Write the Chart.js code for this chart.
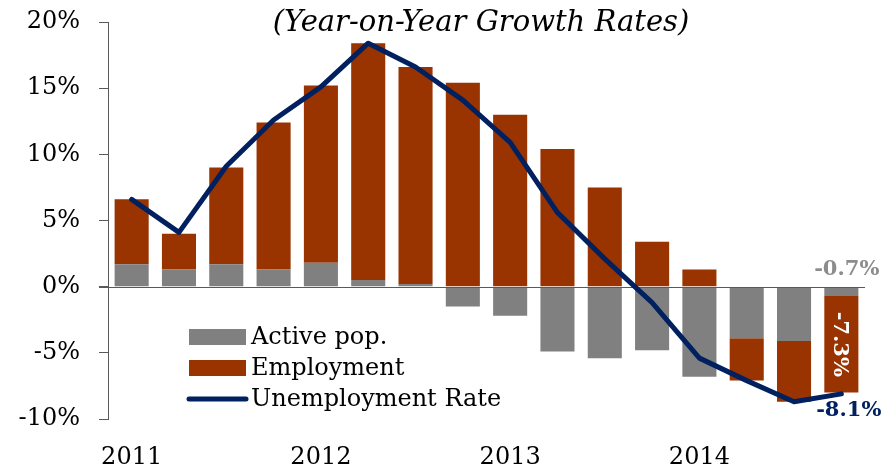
<!DOCTYPE html>
<html lang="en">
<head>
    <meta charset="UTF-8">
    <title>Unemployment decomposition</title>
    <script src="https://cdn.jsdelivr.net/npm/chart.js"></script>
    <style>
        html, body { margin: 0; padding: 0; background: #fff; }
        #wrap { width: 886px; height: 469px; position: relative; }
    </style>
</head>
<body>

<div id="wrap">
    <canvas id="mainChart" width="886" height="469"></canvas>
</div>

<script>
    // quarters 2011Q1 .. 2014Q4
    const quarters = [
        '2011Q1', '2011Q2', '2011Q3', '2011Q4',
        '2012Q1', '2012Q2', '2012Q3', '2012Q4',
        '2013Q1', '2013Q2', '2013Q3', '2013Q4',
        '2014Q1', '2014Q2', '2014Q3', '2014Q4'
    ];
    const activePop = [1.7, 1.3, 1.7, 1.3, 1.8, 0.5, 0.2, -1.5, -2.2, -4.9, -5.4, -4.8, -6.8, -3.9, -4.1, -0.7];
    const employment = [4.9, 2.7, 7.3, 11.1, 13.4, 17.9, 16.4, 15.4, 13.0, 10.4, 7.5, 3.4, 1.3, -3.2, -4.6, -7.3];
    const unemploymentRate = [6.6, 4.1, 9.1, 12.6, 15.1, 18.4, 16.6, 14.1, 10.9, 5.6, 2.1, -1.2, -5.4, -7.1, -8.7, -8.1];
    const yTicks = [-10, -5, 0, 5, 10, 15, 20];

    const GRAY = '#808080';
    const BROWN = '#993300';
    const NAVY = '#002060';
    const AXIS = '#595959';
    const FONT = 'DejaVu Serif';

    Chart.defaults.font.family = FONT;
    Chart.defaults.color = '#000';

    // zero line goes over the bars but under the line
    const zeroLine = {
        id: 'zeroLine',
        beforeDatasetDraw(chart, args) {
            if (args.meta.type !== 'line') return;
            const { ctx, chartArea, scales } = chart;
            const y = Math.round(scales.y.getPixelForValue(0)) + 0.5;
            ctx.save();
            ctx.strokeStyle = AXIS;
            ctx.lineWidth = 1;
            ctx.beginPath();
            ctx.moveTo(chartArea.left - 9, y);
            ctx.lineTo(chartArea.right, y);
            ctx.stroke();
            ctx.restore();
        }
    };

    // subtitle, legend and the three value labels
    const extras = {
        id: 'extras',
        afterDraw(chart) {
            const { ctx, scales } = chart;
            const xs = scales.x, ys = scales.y;
            ctx.save();

            ctx.fillStyle = '#000';
            ctx.font = 'italic 29px "' + FONT + '"';
            ctx.textAlign = 'center';
            ctx.textBaseline = 'alphabetic';
            ctx.fillText('(Year-on-Year Growth Rates)', 481, 31);

            // legend
            const items = [
                { label: 'Active pop.', color: GRAY, type: 'box' },
                { label: 'Employment', color: BROWN, type: 'box' },
                { label: 'Unemployment Rate', color: NAVY, type: 'line' }
            ];
            ctx.font = '24px "' + FONT + '"';
            ctx.textAlign = 'left';
            ctx.textBaseline = 'middle';
            items.forEach((it, i) => {
                const cy = 337 + i * 31;
                if (it.type === 'box') {
                    ctx.fillStyle = it.color;
                    ctx.fillRect(189, cy - 8, 57, 16);
                } else {
                    ctx.strokeStyle = it.color;
                    ctx.lineWidth = 5;
                    ctx.lineCap = 'round';
                    ctx.beginPath();
                    ctx.moveTo(189, cy);
                    ctx.lineTo(246, cy);
                    ctx.stroke();
                }
                ctx.fillStyle = '#000';
                ctx.fillText(it.label, 251, cy + 1);
            });

            // value labels on the last quarter
            const last = quarters.length - 1;
            const xc = xs.getPixelForValue(last);
            ctx.font = 'bold 21px "' + FONT + '"';

            ctx.fillStyle = '#8c8c8c';
            ctx.textAlign = 'right';
            ctx.textBaseline = 'alphabetic';
            ctx.fillText(activePop[last].toFixed(1) + '%', xc + 38, ys.getPixelForValue(0) - 12);

            ctx.fillStyle = NAVY;
            ctx.fillText(unemploymentRate[last].toFixed(1) + '%', xc + 40, ys.getPixelForValue(unemploymentRate[last]) + 22);

            const midY = (ys.getPixelForValue(activePop[last]) + ys.getPixelForValue(activePop[last] + employment[last])) / 2;
            ctx.translate(xc - 2, midY);
            ctx.rotate(Math.PI / 2);
            ctx.fillStyle = '#fff';
            ctx.textAlign = 'center';
            ctx.textBaseline = 'middle';
            ctx.fillText(employment[last].toFixed(1) + '%', 0, 0);

            ctx.restore();
        }
    };

    new Chart(document.getElementById('mainChart'), {
        data: {
            labels: quarters,
            datasets: [
                {
                    type: 'line',
                    label: 'Unemployment Rate',
                    data: unemploymentRate,
                    borderColor: NAVY,
                    borderWidth: 5,
                    borderCapStyle: 'round',
                    borderJoinStyle: 'round',
                    pointRadius: 0,
                    tension: 0,
                    order: 0
                },
                {
                    type: 'bar',
                    label: 'Active pop.',
                    data: activePop,
                    backgroundColor: GRAY,
                    categoryPercentage: 1,
                    barPercentage: 0.72,
                    order: 1
                },
                {
                    type: 'bar',
                    label: 'Employment',
                    data: employment,
                    backgroundColor: BROWN,
                    categoryPercentage: 1,
                    barPercentage: 0.72,
                    order: 2
                }
            ]
        },
        options: {
            responsive: false,
            animation: false,
            layout: { padding: { top: 22, right: 21, bottom: 0, left: 0 } },
            plugins: {
                legend: { display: false },
                tooltip: { enabled: false }
            },
            scales: {
                x: {
                    stacked: true,
                    grid: { display: false, drawTicks: false },
                    border: { display: false },
                    afterFit: axis => { axis.height = 50; },
                    ticks: {
                        autoSkip: false,
                        maxRotation: 0,
                        padding: 24,
                        font: { size: 24 },
                        color: '#000',
                        callback: (v, i) => quarters[i].endsWith('Q1') ? quarters[i].slice(0, 4) : ''
                    }
                },
                y: {
                    stacked: true,
                    min: yTicks[0],
                    max: yTicks[yTicks.length - 1],
                    afterBuildTicks: axis => { axis.ticks = yTicks.map(v => ({ value: v })); },
                    afterFit: axis => {
                        axis.width = 108;
                        axis.paddingTop = 0;
                        axis.paddingBottom = 0;
                    },
                    grid: { drawOnChartArea: false, tickLength: 9, color: AXIS },
                    border: { color: AXIS, width: 1 },
                    ticks: {
                        padding: 19,
                        font: { size: 24 },
                        color: '#000',
                        callback: v => v + '%'
                    }
                }
            }
        },
        plugins: [zeroLine, extras]
    });
</script>

</body>
</html>
